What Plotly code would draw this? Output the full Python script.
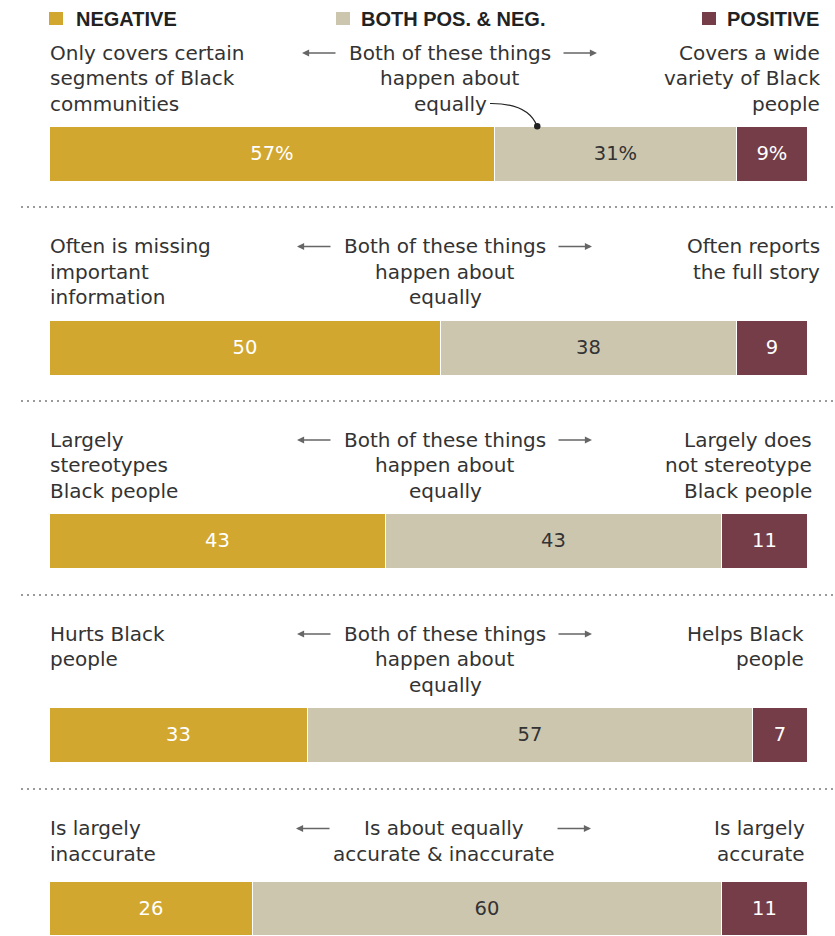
import plotly.graph_objects as go

W, H = 835, 936

# ---- data ----
series_names = ["NEGATIVE", "BOTH POS. & NEG.", "POSITIVE"]
negative = [57, 50, 43, 33, 26]
both = [31, 38, 43, 57, 60]
positive = [9, 9, 11, 7, 11]
left_labels = [
    "Only covers certain<br>segments of Black<br>communities",
    "Often is missing<br>important<br>information",
    "Largely<br>stereotypes<br>Black people",
    "Hurts Black<br>people",
    "Is largely<br>inaccurate",
]
center_labels = [
    "Both of these things<br>happen about<br>equally",
    "Both of these things<br>happen about<br>equally",
    "Both of these things<br>happen about<br>equally",
    "Both of these things<br>happen about<br>equally",
    "Is about equally<br>accurate & inaccurate",
]
right_labels = [
    "Covers a wide<br>variety of Black<br>people",
    "Often reports<br>the full story",
    "Largely does<br>not stereotype<br>Black people",
    "Helps Black<br>people",
    "Is largely<br>accurate",
]

# ---- style / layout ----
colors = ["#D2A730", "#CDC6AF", "#743D48"]
text_colors = ["#FFFFFF", "#333333", "#FFFFFF"]
FONT = "DejaVu Sans"
BOLD = "Liberation Sans"
TXT = "#333333"

bar_tops = [127, 321, 514, 708, 882]
bar_h = 55
text_top = [52.5, 246, 439.5, 633.5, 828]
line_gap = 25.5
center_x = [450, 445, 445, 445, 444]
right_x = [822, 822, 814, 806, 807]
sep_y = [207, 401, 595, 789]


def px(x):
    return x / W


def py(y):
    return 1 - y / H


fig = go.Figure()
layout_axes = {}
for i in range(len(negative)):
    suf = "" if i == 0 else str(i + 1)
    vals = [negative[i], both[i], positive[i]]
    for j, v in enumerate(vals):
        lab = f"{v}%" if i == 0 else f"{v}"
        fig.add_trace(go.Bar(
            x=[v], y=[0], orientation="h", width=1,
            name=series_names[j], showlegend=False, hoverinfo="skip",
            marker=dict(color=colors[j], line=dict(color="white", width=1.2)),
            text=[lab], textposition="inside", insidetextanchor="middle",
            textangle=0, constraintext="none",
            textfont=dict(family=FONT, size=19.5, color=text_colors[j]),
            xaxis="x" + suf, yaxis="y" + suf,
        ))
    y0 = max(0.0, py(bar_tops[i] + bar_h))
    y1 = py(bar_tops[i])
    layout_axes["xaxis" + suf] = dict(domain=[px(50), px(831)], range=[0, 100],
                                      visible=False, fixedrange=True,
                                      anchor="y" + suf)
    layout_axes["yaxis" + suf] = dict(domain=[y0, y1], range=[-0.5, 0.5],
                                      visible=False, fixedrange=True,
                                      anchor="x" + suf)

annotations = []
shapes = []

# legend
legend_sq_x = [49, 336, 702]
legend_txt_x = [74, 359, 725]
for j, name in enumerate(series_names):
    shapes.append(dict(type="rect", xref="paper", yref="paper",
                       x0=px(legend_sq_x[j]), x1=px(legend_sq_x[j] + 14),
                       y0=py(25), y1=py(12), fillcolor=colors[j],
                       line=dict(width=0)))
    annotations.append(dict(x=px(legend_txt_x[j]), y=py(18.5), xref="paper",
                            yref="paper", xanchor="left", yanchor="middle",
                            showarrow=False, text=f"<b>{name}</b>",
                            font=dict(family=BOLD, size=20, color="#222222")))

# row texts
for i in range(len(negative)):
    for k, line in enumerate(left_labels[i].split("<br>")):
        annotations.append(dict(x=px(48), y=py(text_top[i] + k * line_gap),
                                xref="paper", yref="paper", xanchor="left",
                                yanchor="middle", showarrow=False, text=line,
                                font=dict(family=FONT, size=20, color=TXT)))
    for k, line in enumerate(center_labels[i].split("<br>")):
        annotations.append(dict(x=px(center_x[i]), y=py(text_top[i] + k * line_gap),
                                xref="paper", yref="paper", xanchor="center",
                                yanchor="middle", showarrow=False, text=line,
                                font=dict(family=FONT, size=20, color=TXT)))
    for k, line in enumerate(right_labels[i].split("<br>")):
        annotations.append(dict(x=px(right_x[i]), y=py(text_top[i] + k * line_gap),
                                xref="paper", yref="paper", xanchor="right",
                                yanchor="middle", showarrow=False, text=line,
                                font=dict(family=FONT, size=20, color=TXT)))
    cx = center_x[i]
    ay = py(text_top[i] + 0.5)
    annotations.append(dict(x=px(cx - 148), y=ay, xref="paper", yref="paper",
                            ax=35, ay=0, text="", showarrow=True,
                            arrowhead=2, arrowsize=1.1, arrowwidth=1.3,
                            arrowcolor="#666666"))
    annotations.append(dict(x=px(cx + 147), y=ay, xref="paper", yref="paper",
                            ax=-35, ay=0, text="", showarrow=True,
                            arrowhead=2, arrowsize=1.1, arrowwidth=1.3,
                            arrowcolor="#666666"))

# separators
for s in sep_y:
    shapes.append(dict(type="line", xref="paper", yref="paper",
                       x0=px(21), x1=px(835), y0=py(s), y1=py(s),
                       line=dict(color="#9A9A9A", width=2, dash="2px,4px")))

# callout
shapes.append(dict(type="path", xref="paper", yref="paper",
                   path=f"M {px(490)},{py(103.5)} Q {px(528)},{py(103)} {px(537)},{py(126)}",
                   line=dict(color="#222222", width=1.2)))
shapes.append(dict(type="circle", xref="paper", yref="paper",
                   x0=px(534), x1=px(540.5), y0=py(129.5), y1=py(123),
                   fillcolor="#222222", line=dict(width=0)))

fig.update_layout(
    width=W, height=H, margin=dict(l=0, r=0, t=0, b=0),
    paper_bgcolor="white", plot_bgcolor="white",
    barmode="stack", bargap=0, showlegend=False,
    annotations=annotations, shapes=shapes,
    **layout_axes,
)

fig.write_html("out.html", config={"displayModeBar": False},
               post_script="document.body.style.margin='0';")
